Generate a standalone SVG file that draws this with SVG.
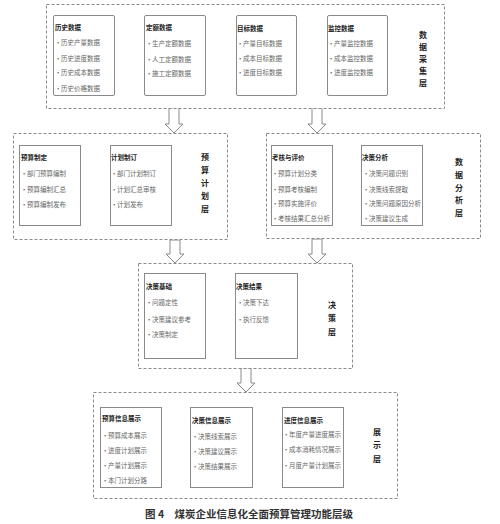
<svg xmlns="http://www.w3.org/2000/svg" width="500" height="524" viewBox="0 0 500 524">
<style>
.layer{fill:#fff;stroke:#8a8a8a;stroke-width:1;stroke-dasharray:3,2}
.box{fill:#fff;stroke:#8a8a8a;stroke-width:1}
.t{font-family:"Liberation Serif","Noto Sans CJK SC",serif;font-size:6.5px;fill:#222;font-weight:bold}
.i{font-family:"Liberation Serif","Noto Sans CJK SC",serif;font-size:6.5px;fill:#666}
.lab{font-family:"Noto Sans CJK SC",serif;font-size:8px;font-weight:bold;fill:#222;text-anchor:middle}
.arr{fill:#fff;stroke:#8a8a8a;stroke-width:1}
.cap{font-family:"Noto Sans CJK SC",sans-serif;font-size:10.5px;font-weight:bold;fill:#333}
</style>
<rect width="500" height="524" fill="#fff"/>

<g id="connectors">
<path class="arr" d="M169,108 V124 H165 L174,133 L183,124 H179 V108 Z"/>
<path class="arr" d="M312,108 V124 H308 L317,133 L326,124 H322 V108 Z"/>
<path class="arr" d="M170,240 V254 H166 L175,263 L184,254 H180 V240 Z"/>
<path class="arr" d="M312,239 V254 H308 L317,263 L326,254 H322 V239 Z"/>
<path class="arr" d="M241,368 V383 H237 L246,392 L255,383 H251 V368 Z"/>
</g>

<g id="layer-collect">
<rect class="layer" x="46.5" y="4.5" width="398" height="104"/>
<text class="lab"><tspan x="423" y="38">数</tspan><tspan x="423" y="50">据</tspan><tspan x="423" y="62">采</tspan><tspan x="423" y="74">集</tspan><tspan x="423" y="86">层</tspan></text>
</g>
<g id="node-hist">
<rect class="box" x="53.5" y="15.5" width="61" height="80" rx="1.5"/>
<text class="t" x="55" y="30">历史数据</text>
<text class="i"><tspan x="57" y="45">• 历史产量数据</tspan><tspan x="57" y="61">• 历史进度数据</tspan><tspan x="57" y="75">• 历史成本数据</tspan><tspan x="57" y="91">• 历史价格数据</tspan></text>
</g>
<g id="node-quota">
<rect class="box" x="144.5" y="15.5" width="61" height="80" rx="1.5"/>
<text class="t" x="146" y="30">定额数据</text>
<text class="i"><tspan x="148" y="46">• 生产定额数据</tspan><tspan x="148" y="62">• 人工定额数据</tspan><tspan x="148" y="76">• 施工定额数据</tspan></text>
</g>
<g id="node-target">
<rect class="box" x="236.5" y="15.5" width="60" height="80" rx="1.5"/>
<text class="t" x="237" y="31">目标数据</text>
<text class="i"><tspan x="239" y="46">• 产量目标数据</tspan><tspan x="239" y="61">• 成本目标数据</tspan><tspan x="239" y="75">• 进度目标数据</tspan></text>
</g>
<g id="node-monitor">
<rect class="box" x="327.5" y="15.5" width="60" height="80" rx="1.5"/>
<text class="t" x="328" y="31">监控数据</text>
<text class="i"><tspan x="330" y="46">• 产量监控数据</tspan><tspan x="330" y="61">• 成本监控数据</tspan><tspan x="330" y="75">• 进度监控数据</tspan></text>
</g>

<g id="layer-budget">
<rect class="layer" x="13.5" y="133.5" width="214" height="106"/>
<text class="lab"><tspan x="205" y="160">预</tspan><tspan x="205" y="173">算</tspan><tspan x="205" y="186">计</tspan><tspan x="205" y="199">划</tspan><tspan x="205" y="212">层</tspan></text>
</g>
<g id="node-budget">
<rect class="box" x="19.5" y="145.5" width="61" height="80"/>
<text class="t" x="21" y="160">预算制定</text>
<text class="i"><tspan x="23" y="176">• 部门预算编制</tspan><tspan x="23" y="192">• 预算编制汇总</tspan><tspan x="23" y="207">• 预算编制发布</tspan></text>
</g>
<g id="node-plan">
<rect class="box" x="110.5" y="145.5" width="61" height="80"/>
<text class="t" x="111" y="160">计划制订</text>
<text class="i"><tspan x="113" y="176">• 部门计划制订</tspan><tspan x="113" y="192">• 计划汇总审核</tspan><tspan x="113" y="207">• 计划发布</tspan></text>
</g>

<g id="layer-analysis">
<rect class="layer" x="266.5" y="133.5" width="214" height="105"/>
<text class="lab"><tspan x="459" y="165">数</tspan><tspan x="459" y="178">据</tspan><tspan x="459" y="191">分</tspan><tspan x="459" y="203">析</tspan><tspan x="459" y="216">层</tspan></text>
</g>
<g id="node-assess">
<rect class="box" x="271.5" y="145.5" width="61" height="80"/>
<text class="t" x="272" y="160">考核与评价</text>
<text class="i"><tspan x="274" y="176">• 预算计划分类</tspan><tspan x="274" y="192">• 预算考核编制</tspan><tspan x="274" y="206">• 预算实施评价</tspan><tspan x="274" y="221">• 考核结果汇总分析</tspan></text>
</g>
<g id="node-decana">
<rect class="box" x="361.5" y="145.5" width="61" height="80"/>
<text class="t" x="362" y="160">决策分析</text>
<text class="i"><tspan x="365" y="176">• 决策问题识别</tspan><tspan x="365" y="192">• 决策线索提取</tspan><tspan x="365" y="206">• 决策问题原因分析</tspan><tspan x="365" y="221">• 决策建议生成</tspan></text>
</g>

<g id="layer-decision">
<rect class="layer" x="138.5" y="263.5" width="214" height="105"/>
<text class="lab"><tspan x="332" y="308">决</tspan><tspan x="332" y="321">策</tspan><tspan x="332" y="335">层</tspan></text>
</g>
<g id="node-decbase">
<rect class="box" x="144.5" y="273.5" width="61" height="85"/>
<text class="t" x="146" y="289">决策基础</text>
<text class="i"><tspan x="148" y="305">• 问题定性</tspan><tspan x="148" y="322">• 决策建议参考</tspan><tspan x="148" y="337">• 决策制定</tspan></text>
</g>
<g id="node-decres">
<rect class="box" x="235.5" y="273.5" width="62" height="85"/>
<text class="t" x="236" y="289">决策结果</text>
<text class="i"><tspan x="239" y="305">• 决策下达</tspan><tspan x="239" y="322">• 执行反馈</tspan></text>
</g>

<g id="layer-display">
<rect class="layer" x="93.5" y="392.5" width="304" height="106"/>
<text class="lab"><tspan x="377" y="435">展</tspan><tspan x="377" y="448">示</tspan><tspan x="377" y="462">层</tspan></text>
</g>
<g id="node-disp-budget">
<rect class="box" x="100.5" y="407.5" width="61" height="80"/>
<text class="t" x="102" y="421">预算信息展示</text>
<text class="i"><tspan x="104" y="438">• 预算成本展示</tspan><tspan x="104" y="453">• 进度计划展示</tspan><tspan x="104" y="468">• 产量计划展示</tspan><tspan x="104" y="483">• 本门计划分路</tspan></text>
</g>
<g id="node-disp-dec">
<rect class="box" x="190.5" y="407.5" width="62" height="80"/>
<text class="t" x="192" y="423">决策信息展示</text>
<text class="i"><tspan x="194" y="439">• 决策线索展示</tspan><tspan x="194" y="454">• 决策建议展示</tspan><tspan x="194" y="469">• 决策结果展示</tspan></text>
</g>
<g id="node-disp-prog">
<rect class="box" x="282.5" y="407.5" width="61" height="80"/>
<text class="t" x="284" y="423">进度信息展示</text>
<text class="i"><tspan x="285" y="437">• 年度产量进度展示</tspan><tspan x="285" y="452">• 成本消耗情况展示</tspan><tspan x="285" y="468">• 月度产量计划展示</tspan></text>
</g>

<text class="cap" x="145" y="518">图 4　煤炭企业信息化全面预算管理功能层级</text>
</svg>
